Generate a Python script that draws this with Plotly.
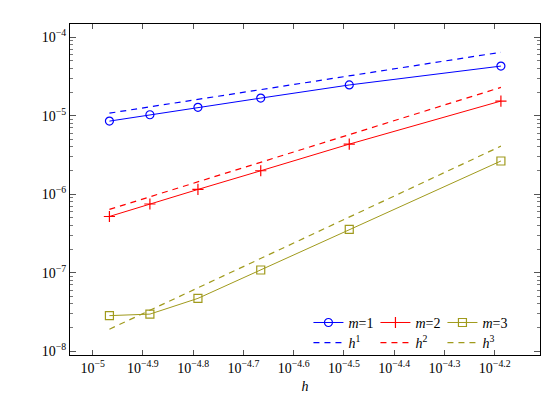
import plotly.graph_objects as go

# step sizes and errors
h = [1.08e-5, 1.30e-5, 1.62e-5, 2.16e-5, 3.24e-5, 6.49e-5]
err_m1 = [8.55e-6, 1.03e-5, 1.28e-5, 1.68e-5, 2.47e-5, 4.30e-5]
err_m2 = [5.2e-7, 7.5e-7, 1.15e-6, 1.99e-6, 4.35e-6, 1.54e-5]
err_m3 = [2.83e-8, 2.96e-8, 4.7e-8, 1.08e-7, 3.56e-7, 2.65e-6]
ref_h1 = [1.08e-5, 1.30e-5, 1.62e-5, 2.16e-5, 3.24e-5, 6.45e-5]
ref_h2 = [6.4e-7, 9.3e-7, 1.44e-6, 2.57e-6, 5.8e-6, 2.3e-5]
ref_h3 = [1.9e-8, 3.3e-8, 6.4e-8, 1.51e-7, 5.1e-7, 4.1e-6]

x_exps = ["-5", "-4.9", "-4.8", "-4.7", "-4.6", "-4.5", "-4.4", "-4.3", "-4.2"]
y_exps = ["-8", "-7", "-6", "-5", "-4"]

BLUE = "#0000ff"
RED = "#ff0000"
OLIVE = "#a09a1c"
FONT = "Liberation Serif"

fig = go.Figure()

series = [
    (err_m1, BLUE, "circle-open", "<i>m</i>=1"),
    (err_m2, RED, "cross-thin-open", "<i>m</i>=2"),
    (err_m3, OLIVE, "square-open", "<i>m</i>=3"),
]
for ys, color, symbol, name in series:
    fig.add_trace(go.Scatter(
        x=h, y=ys, mode="lines+markers", name=name,
        line=dict(color=color, width=1),
        marker=dict(symbol=symbol, size=8, color=color,
                    line=dict(color=color, width=1.2)),
        legend="legend",
    ))

refs = [
    (ref_h1, BLUE, "<i>h</i><sup>1</sup>"),
    (ref_h2, RED, "<i>h</i><sup>2</sup>"),
    (ref_h3, OLIVE, "<i>h</i><sup>3</sup>"),
]
for ys, color, name in refs:
    fig.add_trace(go.Scatter(
        x=[h[0], h[-1]], y=[ys[0], ys[-1]], mode="lines", name=name,
        line=dict(color=color, width=1.2, dash="6px,5px"),
        legend="legend2",
    ))

# minor tick positions on y (2..9 per decade)
minor_y = [k * 10.0 ** e for e in range(-9, -3) for k in range(2, 10)]

fig.update_layout(
    width=553, height=399,
    margin=dict(l=62, r=21, t=16, b=52),
    paper_bgcolor="white", plot_bgcolor="white",
    font=dict(family=FONT, size=14, color="black"),
    legend=dict(orientation="h", x=0.935, xanchor="right", y=0.097, yanchor="middle",
                bgcolor="rgba(0,0,0,0)", font=dict(size=14), itemwidth=30,
                entrywidth=22, tracegroupgap=0),
    legend2=dict(orientation="h", x=0.935, xanchor="right", y=0.036, yanchor="middle",
                 bgcolor="rgba(0,0,0,0)", font=dict(size=14), itemwidth=30,
                 entrywidth=22),
)

fig.update_xaxes(
    type="log", range=[-5.045, -4.11],
    tickvals=[10 ** float(e) for e in x_exps],
    ticktext=["10<sup>\u2212" + e[1:] + "</sup>" for e in x_exps],
    ticks="inside", ticklen=5, tickcolor="#555",
    showline=True, linecolor="black", linewidth=1, mirror="allticks",
    showgrid=False, zeroline=False,
    tickfont=dict(size=14),
    title=dict(text="<i>h</i>", font=dict(size=14), standoff=6),
)
fig.update_yaxes(
    type="log", range=[-8.05, -3.83],
    tickvals=[10 ** float(e) for e in y_exps],
    ticktext=["10<sup>\u2212" + e[1:] + "</sup>" for e in y_exps],
    ticks="inside", ticklen=6, tickcolor="#555",
    minor=dict(tickvals=minor_y, ticks="inside", ticklen=3, tickcolor="#777",
               showgrid=False),
    showline=True, linecolor="black", linewidth=1, mirror="allticks",
    showgrid=False, zeroline=False,
    tickfont=dict(size=14),
)

fig.write_html("out.html")
